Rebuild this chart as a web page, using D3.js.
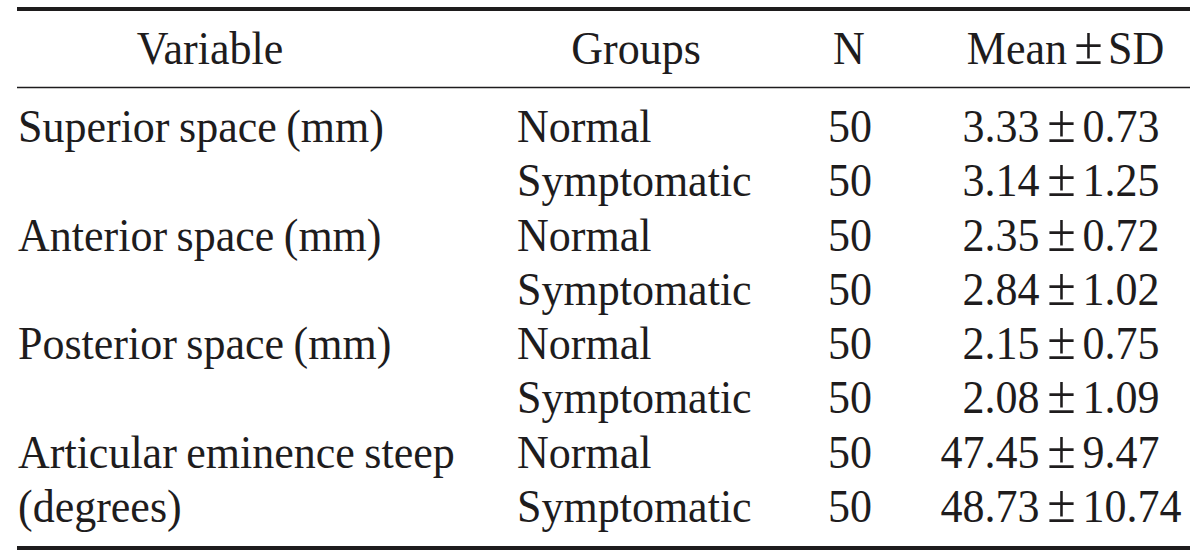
<!DOCTYPE html>
<html>
<head>
<meta charset="utf-8">
<script src="https://cdn.jsdelivr.net/npm/d3@7"></script>
<style>
  body { margin: 0; background: #fff; }
  svg text { font-family: "Liberation Serif", "Times New Roman", serif; fill: #1e1c1d; word-spacing: -1.5px; }
</style>
</head>
<body>
<div id="table"></div>
<script>

// table content
const headers = ["Variable", "Groups", "N"];
const variables = ["Superior space (mm)", "", "Anterior space (mm)", "", "Posterior space (mm)", "", "Articular eminence steep", "(degrees)"];
const groups = ["Normal", "Symptomatic", "Normal", "Symptomatic", "Normal", "Symptomatic", "Normal", "Symptomatic"];
const counts = [50, 50, 50, 50, 50, 50, 50, 50];
const means = [3.33, 3.14, 2.35, 2.84, 2.15, 2.08, 47.45, 48.73];
const sds = [0.73, 1.25, 0.72, 1.02, 0.75, 1.09, 9.47, 10.74];


let width = 1200, height = 555;
let fontSize = 44;
let pmSize = 52;
// glyphs in the print are a touch taller than times
let stretch = "scale(1,1.05)";

let svg = d3.select("#table").append("svg")
    .attr("width", width)
    .attr("height", height);

// rows positioned by index
let rowIdx = d3.range(groups.length);
let y = d3.scalePoint()
    .domain(rowIdx)
    .range([142, 522]);

let fmt = d3.format(".2f");

// rules
let left = 17, right = 1190;
svg.append("line")
    .attr("x1", left).attr("x2", right)
    .attr("y1", 9).attr("y2", 9)
    .attr("stroke", "#1e1c1d").attr("stroke-width", 4);
svg.append("line")
    .attr("x1", left).attr("x2", right)
    .attr("y1", 87.5).attr("y2", 87.5)
    .attr("stroke", "#1e1c1d").attr("stroke-width", 1.5);
svg.append("line")
    .attr("x1", left).attr("x2", right)
    .attr("y1", 548).attr("y2", 548)
    .attr("stroke", "#1e1c1d").attr("stroke-width", 4);

// header
let head = svg.append("g")
    .attr("transform", "translate(0,64) " + stretch)
    .style("font-size", fontSize + "px");

let headerX = [210, 636, 849];
head.selectAll("text.header")
    .data(headers)
    .enter()
    .append("text")
    .attr("class", "header")
    .attr("x", (d, i) => headerX[i])
    .attr("text-anchor", "middle")
    .text(d => d);

head.append("text").attr("x", 1067).attr("text-anchor", "end").text("Mean");
head.append("text").attr("x", 1088.5).attr("text-anchor", "middle")
    .style("font-size", pmSize + "px").text("\u00b1");
head.append("text").attr("x", 1108).text("SD");

// body columns
let body = svg.selectAll("g.row")
    .data(rowIdx)
    .enter()
    .append("g")
    .attr("class", "row")
    .attr("transform", d => "translate(0," + y(d) + ") " + stretch)
    .style("font-size", fontSize + "px");

body.append("text")
    .attr("x", 18)
    .text(d => variables[d]);

body.append("text")
    .attr("x", 517)
    .text(d => groups[d]);

body.append("text")
    .attr("x", 850)
    .attr("text-anchor", "middle")
    .text(d => counts[d]);

// mean +- sd, lined up on the sign
let pmX = 1061.5;
body.append("text")
    .attr("x", pmX - 22)
    .attr("text-anchor", "end")
    .text(d => fmt(means[d]));

body.append("text")
    .attr("x", pmX)
    .attr("text-anchor", "middle")
    .style("font-size", pmSize + "px")
    .text("\u00b1");

body.append("text")
    .attr("x", pmX + 21)
    .text(d => fmt(sds[d]));

</script>
</body>
</html>
